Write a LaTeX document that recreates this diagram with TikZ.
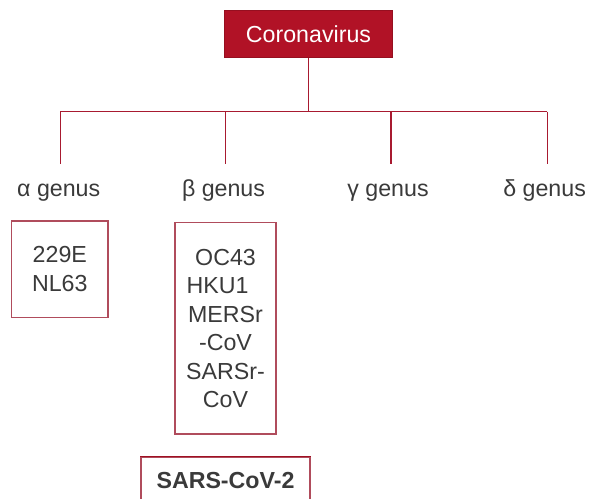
\documentclass[tikz,border=0pt]{standalone}
\usepackage{fontspec}
\setmainfont{Liberation Sans}
\definecolor{cvred}{HTML}{B11226}
\definecolor{linered}{HTML}{A81A30}
\definecolor{boxred}{HTML}{B04C5C}
\definecolor{txt}{HTML}{3A3A3A}
\tikzset{
  big/.style={font=\fontsize{23.2bp}{28.5bp}\selectfont, text=txt},
  conn/.style={draw=linered, line width=1.2bp},
  rbox/.style={draw=boxred, line width=1.5bp, inner sep=0pt, align=center, big},
  genus/.style={big, anchor=base, inner sep=0pt},
}
\begin{document}
\begin{tikzpicture}[x=1bp,y=-1bp]
\clip (0,0) rectangle (597,499);
\fill[white] (0,0) rectangle (597,499);
% root
\node[fill=cvred, draw=cvred!85!black, line width=0.6bp, minimum width=167.6bp, minimum height=47bp, inner sep=0pt,
      text=white, font=\fontsize{23.2bp}{28.5bp}\selectfont] (cv) at (308.5,33.8) {Coronavirus};
% hub
\coordinate (hub) at (308.5,111.7);
\coordinate (ha) at (60.3,111.7);
\coordinate (hb) at (225.7,111.7);
\coordinate (hg) at (391,111.7);
\coordinate (hd) at (547.3,111.7);
\coordinate (ea) at (60.3,164);
\coordinate (eb) at (225.7,164);
\coordinate (eg) at (391,164);
\coordinate (ed) at (547.3,164);
\draw[conn] (cv.south) -- (hub);
\draw[conn] (ha) -- (hd);
\draw[conn] (ha) -- (ea);
\draw[conn] (hb) -- (eb);
\draw[conn] (hg) -- (eg);
\draw[conn] (hd) -- (ed);
% labels
\node[genus] (la) at (58.7,197) {α genus};
\node[genus] (lb) at (223.5,197) {β genus};
\node[genus] (lg) at (388,197) {γ genus};
\node[genus] (ld) at (544.6,197) {δ genus};
% boxes
\node[rbox, minimum width=96.3bp, minimum height=96.3bp] (ba) at (59.8,269.2) {229E\\NL63};
\node[rbox, minimum width=101bp, minimum height=211.3bp] (bb) at (225.5,328.3)
  {OC43\\HKU1\makebox[16bp]{}\\MERSr\\-CoV\\SARSr-\\CoV};
\node[draw=boxred, line width=1.5bp, minimum width=169bp, minimum height=70bp, anchor=north, inner sep=0pt]
  (sarsbox) at (225.5,456.7) {};
\draw[draw=cvred!90!black, line width=1.5bp] (sarsbox.north west) -- (sarsbox.north east);
\node[big, anchor=base, inner sep=0pt, font=\fontsize{23.2bp}{28.5bp}\selectfont\bfseries] (sars) at (225.5,488) {SARS-CoV-2};
\end{tikzpicture}
\end{document}
